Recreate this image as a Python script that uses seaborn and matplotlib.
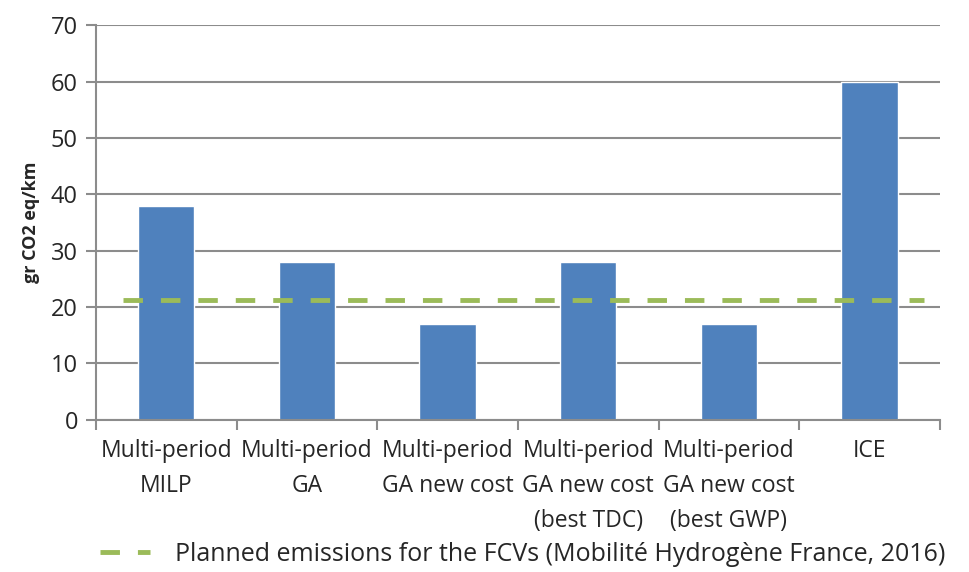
import matplotlib
matplotlib.use("Agg")
import matplotlib.pyplot as plt
import seaborn as sns
import pandas as pd

categories = [
    "Multi-period\nMILP",
    "Multi-period\nGA",
    "Multi-period\nGA new cost",
    "Multi-period\nGA new cost\n(best TDC)",
    "Multi-period\nGA new cost\n(best GWP)",
    "ICE",
]
emissions = [38, 28, 17, 28, 17, 60]
planned_emission = 21.3
planned_label = "Planned emissions for the FCVs (Mobilité Hydrogène France, 2016)"
y_ticks = [0, 10, 20, 30, 40, 50, 60, 70]

sns.set_style("white")
plt.rcParams["font.family"] = ["Open Sans", "DejaVu Sans"]

df = pd.DataFrame({"category": categories, "value": emissions})

fig = plt.figure(figsize=(9.69, 5.72), dpi=100)
ax = fig.add_axes([0.099, 0.266, 0.871, 0.690])

sns.barplot(data=df, x="category", y="value", color="#4f81bd",
            width=0.4, saturation=1, ax=ax, zorder=2)

n = len(categories)
ax.plot([-0.31, n - 1 + 0.39], [planned_emission, planned_emission],
        color="#9bbb59", linewidth=3.5, linestyle=(0, (4, 3.7)),
        label=planned_label, zorder=3)

ax.set_xlim(-0.5, n - 0.5)
ax.set_ylim(0, 70)
ax.set_yticks(y_ticks)
ax.yaxis.grid(True, color="#8c8c8c", linewidth=1.5, zorder=0)
ax.set_axisbelow(True)

# ticks at category boundaries, labels at centres
ax.set_xticks([i - 0.5 for i in range(n + 1)])
ax.set_xticklabels([])
ax.set_xticks(range(n), minor=True)
ax.set_xticklabels(categories, minor=True, fontsize=16.5, linespacing=1.6,
                   va="top")
ax.tick_params(axis="x", which="minor", length=0, pad=14)
ax.tick_params(axis="x", which="major", length=7, width=1.5, color="#8c8c8c",
               direction="out", bottom=True)
ax.tick_params(axis="y", length=7, width=1.5, color="#8c8c8c",
               direction="out", left=True, labelsize=17, pad=6)

for side in ["top", "right"]:
    ax.spines[side].set_visible(False)
for side in ["left", "bottom"]:
    ax.spines[side].set_color("#8c8c8c")
    ax.spines[side].set_linewidth(1.5)

ax.set_xlabel("")
ax.set_ylabel("gr CO2 eq/km", fontsize=13, fontweight="bold", labelpad=8)

fig.legend(loc="lower left", bbox_to_anchor=(0.08, -0.03), frameon=False,
           fontsize=18, handlelength=2.0, handletextpad=1.0)

fig.savefig("out.png", dpi=100)
